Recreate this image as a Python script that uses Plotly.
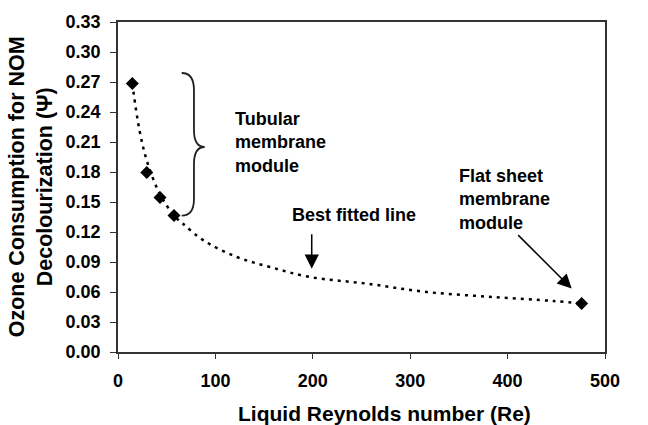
import plotly.graph_objects as go

# measured data points
re_pts = [14.7, 29.5, 43.1, 57.5, 476]
psi_pts = [0.2685, 0.1795, 0.1546, 0.1364, 0.0485]

# best fitted line
fit_x = [14.7, 22, 30, 43, 58, 67, 88, 122, 156, 197, 255, 317, 385, 447, 476]
fit_y = [0.2685, 0.222, 0.19, 0.158, 0.136, 0.128, 0.1115, 0.095, 0.085, 0.075,
         0.0684, 0.060, 0.055, 0.051, 0.0485]

x_ticks = [0, 100, 200, 300, 400, 500]
y_ticks = [0.00, 0.03, 0.06, 0.09, 0.12, 0.15, 0.18, 0.21, 0.24, 0.27, 0.30, 0.33]

x_title = "Liquid Reynolds number (Re)"
y_title = "Ozone Consumption for NOM<br>Decolourization (Ψ)"

FONT = "Liberation Sans, Arial, sans-serif"

fig = go.Figure()
fig.add_trace(go.Scatter(x=fit_x, y=fit_y, mode="lines",
                         line=dict(color="black", width=2.5, dash="3px,5px", shape="spline"),
                         hoverinfo="skip", showlegend=False))
fig.add_trace(go.Scatter(x=re_pts, y=psi_pts, mode="markers",
                         marker=dict(symbol="diamond", size=10, color="black"),
                         showlegend=False))

# curly brace
brace = ("M 65.4,0.279 Q 78,0.279 78,0.262 L 78,0.222 Q 78,0.205 89,0.205 "
         "Q 78,0.205 78,0.188 L 78,0.153 Q 78,0.1364 65.4,0.1364")
fig.add_shape(type="path", path=brace, xref="x", yref="y",
              line=dict(color="#222", width=1.8))

txt_font = dict(family=FONT, size=18, color="black", weight="bold")
fig.add_annotation(x=118.4, y=0.2094, xref="x", yref="y", xanchor="left", yanchor="middle",
                   text="Tubular<br>membrane<br>module", showarrow=False, align="left",
                   font=txt_font)
fig.add_annotation(x=176.6, y=0.137, xref="x", yref="y", xanchor="left", yanchor="middle",
                   text="Best fitted line", showarrow=False, font=txt_font)
fig.add_annotation(x=347.7, y=0.153, xref="x", yref="y", xanchor="left", yanchor="middle",
                   text="Flat sheet<br>membrane<br>module", showarrow=False, align="left",
                   font=txt_font)
# arrows
fig.add_annotation(x=198.9, y=0.0833, xref="x", yref="y", ax=0, ay=-36, text="",
                   showarrow=True, arrowhead=2, arrowwidth=1.5, arrowsize=1.9,
                   arrowcolor="black")
fig.add_annotation(x=465.8, y=0.0634, xref="x", yref="y", ax=-55, ay=-55, text="",
                   showarrow=True, arrowhead=2, arrowwidth=1.5, arrowsize=1.9,
                   arrowcolor="black")

# axis titles
title_font = dict(family=FONT, size=21, color="black", weight="bold")
fig.add_annotation(x=0.548, y=-0.187, xref="paper", yref="paper", xanchor="center",
                   yanchor="middle", text=x_title, showarrow=False, font=title_font)
fig.add_annotation(x=-0.178, y=0.5, xref="paper", yref="paper", xanchor="center",
                   yanchor="middle", text=y_title, showarrow=False, textangle=-90,
                   font=dict(family=FONT, size=21.5, color="black", weight="bold"))

fig.update_layout(
    width=648, height=425,
    margin=dict(l=118, r=43, t=20, b=73),
    paper_bgcolor="white", plot_bgcolor="white",
    font=dict(family=FONT, color="black"),
)
fig.update_xaxes(range=[0, 500], tickvals=x_ticks, ticktext=[str(v) for v in x_ticks],
                 showgrid=False, zeroline=False, showline=True, linecolor="#333",
                 linewidth=1.5, mirror=True, ticks="outside", ticklen=5, tickcolor="#333",
                 ticklabelstandoff=7,
                 tickfont=dict(family=FONT, size=18, color="black", weight="bold"))
fig.update_yaxes(range=[0, 0.33], tickvals=y_ticks, ticktext=[f"{v:.2f}" for v in y_ticks],
                 showgrid=False, zeroline=False, showline=True, linecolor="#333",
                 linewidth=1.5, mirror=True, ticks="outside", ticklen=6, tickcolor="#333",
                 ticklabelstandoff=6,
                 tickfont=dict(family=FONT, size=18, color="black", weight="bold"))

fig.write_html("out.html")
